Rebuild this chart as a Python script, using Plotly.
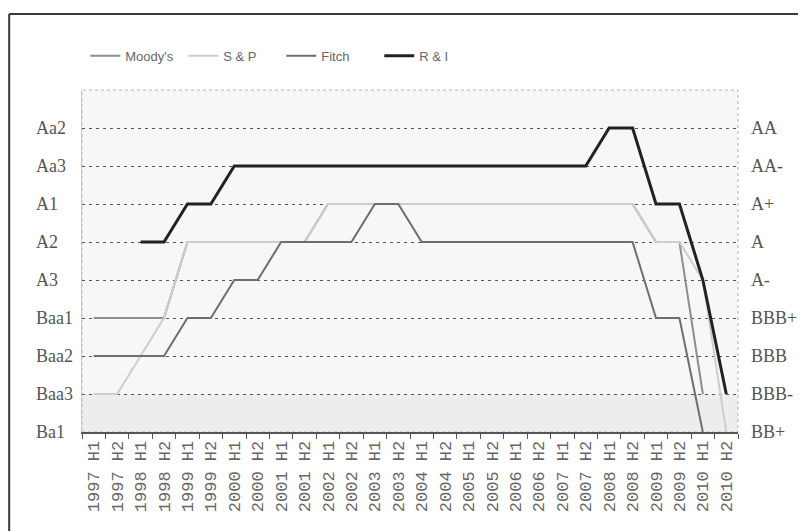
import plotly.graph_objects as go

periods = [f"{y} H{h}" for y in range(1997, 2011) for h in (1, 2)]

left_labels = ["Ba1", "Baa3", "Baa2", "Baa1", "A3", "A2", "A1", "Aa3", "Aa2"]
right_labels = ["BB+", "BBB-", "BBB", "BBB+", "A-", "A", "A+", "AA-", "AA"]
levels = list(range(9))

moodys = [3, 3, 3, 3, 5, 5, 5, 5, 5, 5, 6, 6, 6, 6, 6, 6, 6, 6, 6, 6, 6, 6, 6, 6, 5, 5, 1, None]
sp     = [1, 1, 2, 3, 5, 5, 5, 5, 5, 5, 6, 6, 6, 6, 6, 6, 6, 6, 6, 6, 6, 6, 6, 6, 5, 5, 4, 0]
fitch  = [2, 2, 2, 2, 3, 3, 4, 4, 5, 5, 5, 5, 6, 6, 5, 5, 5, 5, 5, 5, 5, 5, 5, 5, 3, 3, 0, None]
ri     = [None, None, 5, 5, 6, 6, 7, 7, 7, 7, 7, 7, 7, 7, 7, 7, 7, 7, 7, 7, 7, 7, 8, 8, 6, 6, 4, 1]

fig = go.Figure()
fig.add_trace(go.Scatter(x=periods, y=moodys, name="Moody's", mode="lines",
                         line=dict(color="#8e8e8e", width=2)))
fig.add_trace(go.Scatter(x=periods, y=sp, name="S & P", mode="lines",
                         line=dict(color="#cdcdcd", width=2)))
fig.add_trace(go.Scatter(x=periods, y=fitch, name="Fitch", mode="lines",
                         line=dict(color="#6e6e6e", width=2)))
fig.add_trace(go.Scatter(x=periods, y=ri, name="R & I", mode="lines", yaxis="y2",
                         line=dict(color="#222222", width=3)))

label_font = dict(family="Liberation Serif, Times New Roman, serif", size=18, color="#555555")

annotations = []
for v, t in zip(levels, left_labels):
    annotations.append(dict(x=-0.073, xref="paper", y=v, yref="y", text=t,
                            showarrow=False, xanchor="left", yanchor="middle",
                            font=label_font))

shapes = [
    dict(type="rect", xref="paper", yref="y", x0=0, x1=1, y0=0, y1=1,
         fillcolor="#ededed", line=dict(width=0), layer="below"),
    dict(type="rect", xref="paper", yref="paper", x0=0, x1=1, y0=0, y1=1,
         line=dict(color="#b5b5b5", width=1, dash="dot"), layer="below"),
    # outer chart frame: top and left edges
    dict(type="line", xref="paper", yref="paper", x0=-0.111, x1=1.15, y0=1.222, y1=1.222,
         line=dict(color="#3a3a3a", width=2)),
    dict(type="line", xref="paper", yref="paper", x0=-0.111, x1=-0.111, y0=-0.5, y1=1.222,
         line=dict(color="#3a3a3a", width=2)),
]

fig.update_layout(
    width=798, height=523,
    margin=dict(l=74, r=68, t=82, b=99, autoexpand=False),
    paper_bgcolor="white",
    plot_bgcolor="#f7f7f7",
    showlegend=True,
    legend=dict(orientation="h", x=0.005, xanchor="left", y=1.10, yanchor="middle",
                font=dict(family="Liberation Sans Narrow, Arial Narrow, Liberation Sans, sans-serif",
                          size=13, color="#666666"),
                entrywidth=53, itemwidth=30, bgcolor="rgba(0,0,0,0)"),
    xaxis=dict(type="category", categoryorder="array", categoryarray=periods,
               range=[-0.5, 27.5], tickson="boundaries", ticks="outside", ticklen=5,
               tickcolor="#555555", showline=True, linecolor="#555555", linewidth=2,
               showgrid=False, tickangle=-90,
               tickfont=dict(family="Liberation Mono, Courier New, monospace", size=17, color="#666666")),
    yaxis=dict(range=[0, 9], tickvals=levels, showticklabels=False, ticks="",
               showgrid=True, gridcolor="#555555", gridwidth=1, griddash="3px,4px",
               zeroline=False, showline=True, linecolor="#c8c8c8", linewidth=1),
    yaxis2=dict(range=[0, 9], tickvals=levels, ticktext=right_labels, overlaying="y",
                side="right", showgrid=False, zeroline=False, ticks="",
                ticklabelstandoff=12,
                tickfont=label_font),
    annotations=annotations,
    shapes=shapes,
)

fig.write_html("out.html")
